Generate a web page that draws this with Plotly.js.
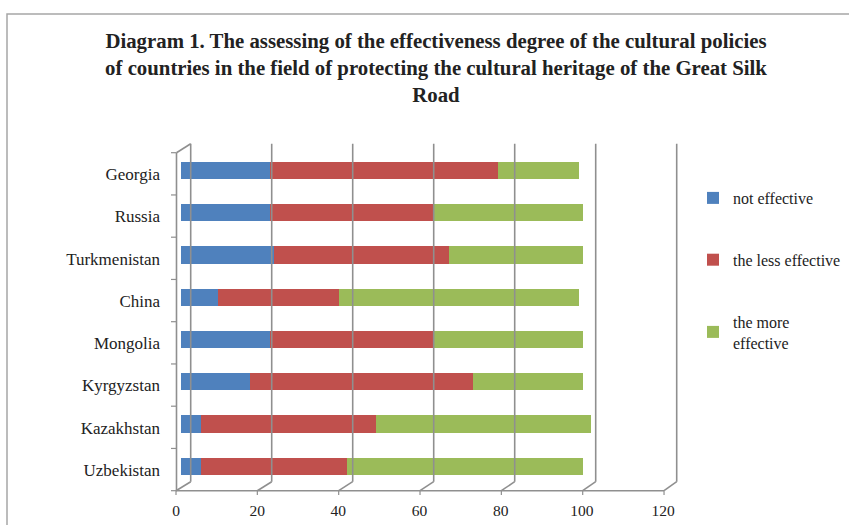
<!DOCTYPE html>
<html>
<head>
<meta charset="utf-8">
<script src="https://cdn.plot.ly/plotly-3.0.1.min.js"></script>
<style>html,body{margin:0;padding:0;background:#fff;}#chart{width:849px;height:525px;}</style>
</head>
<body>
<div id="chart"></div>
<script>
// ---- data (bottom to top, as in the chart) ----
var countries = ['Uzbekistan','Kazakhstan','Kyrgyzstan','Mongolia','China','Turkmenistan','Russia','Georgia'];
var notEffective  = [5, 5, 17, 22, 9, 23, 22, 22];
var lessEffective = [36, 43, 55, 40, 30, 43, 40, 56];
var moreEffective = [58, 53, 27, 37, 59, 33, 37, 20];
var seriesNames = ['not effective', 'the less effective', 'the more<br>effective'];
var xTicks = [0, 20, 40, 60, 80, 100, 120];

// ---- layout geometry (pixels) ----
var W = 849, H = 525;
var L = 181, R = 668, T = 153, B = 491;
function px(p){ return (p - L) / (R - L); }
function py(p){ return (B - p) / (B - T); }

var colors = ['#4F81BD', '#C0504D', '#9BBB59'];
var serif = 'Liberation Serif, Times New Roman, serif';
var values = [notEffective, lessEffective, moreEffective];

var traces = values.map(function(v, i){
  return {
    type: 'bar', orientation: 'h',
    x: v, y: countries,
    name: seriesNames[i],
    legendgroup: 'g' + i,
    width: 0.41, offset: -0.12,
    marker: {color: colors[i], line: {width: 0}},
    hoverinfo: 'x+y+name'
  };
});

// ---- 3D-style frame decorations ----
var gridCol = '#8f8f8f';
var shapes = [];
var backX = function(v){ return 190.7 + 4.05 * v; };
var frontX = function(v){ return 176 + 4.067 * v; };
xTicks.forEach(function(v){
  shapes.push({type:'line', xref:'paper', yref:'paper',
    x0: px(backX(v)), x1: px(backX(v)), y0: py(481.7), y1: py(143.7),
    line:{color:gridCol, width:1.6}});
  shapes.push({type:'line', xref:'paper', yref:'paper',
    x0: px(frontX(v)), x1: px(backX(v)), y0: py(490.7), y1: py(481.7),
    line:{color:gridCol, width:1.6}});
  shapes.push({type:'line', xref:'paper', yref:'paper',
    x0: px(frontX(v)), x1: px(frontX(v)), y0: py(490.7), y1: py(495),
    line:{color:gridCol, width:1.2}});
});
shapes.push({type:'line', xref:'paper', yref:'paper',
  x0: px(frontX(0)), x1: px(frontX(120)), y0: py(490.7), y1: py(490.7),
  line:{color:gridCol, width:1.6}});
shapes.push({type:'line', xref:'paper', yref:'paper',
  x0: px(176.5), x1: px(176.5), y0: py(490.7), y1: py(152.7),
  line:{color:gridCol, width:1.6}});
shapes.push({type:'line', xref:'paper', yref:'paper',
  x0: px(176.5), x1: px(backX(0)), y0: py(152.7), y1: py(143.7),
  line:{color:gridCol, width:1.6}});
for (var k = 0; k <= countries.length; k++){
  var yy = 152.7 + k * (490.7 - 152.7) / countries.length;
  shapes.push({type:'line', xref:'paper', yref:'paper',
    x0: px(171), x1: px(176.5), y0: py(yy), y1: py(yy),
    line:{color:gridCol, width:1.2}});
}
shapes.push({type:'rect', xref:'paper', yref:'paper',
  x0: px(7), x1: px(W + 10), y0: py(14), y1: py(H + 10),
  line:{color:'#a6a6a6', width:1.5}, fillcolor:'rgba(0,0,0,0)', layer:'below'});

var layout = {
  width: W, height: H,
  margin: {l: L, r: W - R, t: T, b: H - B, pad: 0, autoexpand: false},
  paper_bgcolor: '#fff', plot_bgcolor: 'rgba(0,0,0,0)',
  barmode: 'stack', bargap: 0.59,
  font: {family: serif, size: 15, color: '#222'},
  title: {
    text: '<b>Diagram 1. The assessing of the effectiveness degree of the cultural policies<br>of countries in the field of protecting the cultural heritage of the Great Silk<br>Road</b>',
    font: {family: serif, size: 20.8, color: '#222'},
    x: 436 / W, xanchor: 'center', xref: 'container',
    y: 1 - 48 / H, yanchor: 'top', yref: 'container'
  },
  xaxis: {
    range: [0, 120], tickvals: xTicks, ticktext: xTicks.map(String),
    showgrid: false, zeroline: false, showline: false, ticks: '',
    ticklabelstandoff: 8, ticklabelshift: -5,
    tickfont: {family: serif, size: 15.5, color: '#222'}, fixedrange: true
  },
  yaxis: {
    type: 'category', categoryorder: 'array', categoryarray: countries,
    range: [-0.5, countries.length - 0.5],
    showgrid: false, zeroline: false, showline: false, ticks: '',
    ticklabelstandoff: 20,
    tickfont: {family: serif, size: 17, color: '#222'}, fixedrange: true
  },
  showlegend: true,
  legend: {
    x: px(693), xanchor: 'left', xref: 'paper',
    y: py(181), yanchor: 'top',
    traceorder: 'grouped', tracegroupgap: 38,
    font: {family: serif, size: 16, color: '#222'},
    bgcolor: 'rgba(0,0,0,0)', itemwidth: 30
  },
  shapes: shapes
};

Plotly.newPlot('chart', traces, layout, {displayModeBar: false, staticPlot: true});
</script>
</body>
</html>
